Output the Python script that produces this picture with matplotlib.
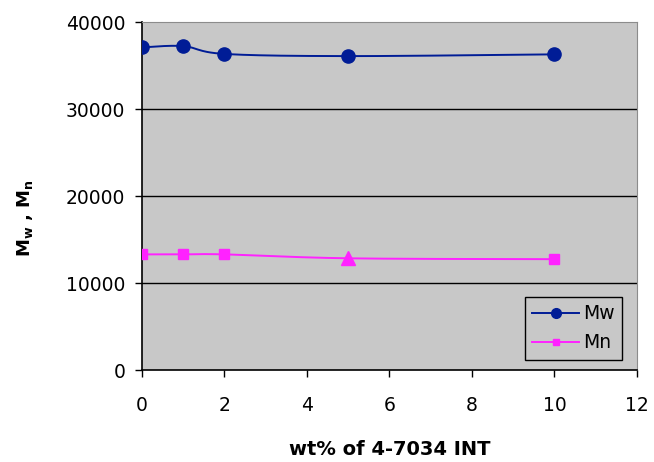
import numpy as np
import matplotlib.pyplot as plt

plt.rcParams['font.family'] = ['DejaVu Sans']

wt = [0, 1, 2, 5, 10]
mw = [37100, 37250, 36350, 36100, 36300]
mn = [13300, 13300, 13300, 12850, 12750]


def excel_smooth(x, y, n=40):
    # bezier smoothing like the spreadsheet "smoothed line" option
    x = np.asarray(x, float)
    y = np.asarray(y, float)
    px = np.concatenate([[x[0]], x, [x[-1]]])
    py = np.concatenate([[y[0]], y, [y[-1]]])
    xs, ys = [], []
    t = np.linspace(0, 1, n)
    for i in range(1, len(px) - 2):
        p0 = np.array([px[i], py[i]])
        p3 = np.array([px[i + 1], py[i + 1]])
        c1 = p0 + (np.array([px[i + 1], py[i + 1]]) - np.array([px[i - 1], py[i - 1]])) / 6
        c2 = p3 - (np.array([px[i + 2], py[i + 2]]) - np.array([px[i], py[i]])) / 6
        b = ((1 - t) ** 3)[:, None] * p0 + (3 * (1 - t) ** 2 * t)[:, None] * c1 \
            + (3 * (1 - t) * t ** 2)[:, None] * c2 + (t ** 3)[:, None] * p3
        xs.extend(b[:, 0])
        ys.extend(b[:, 1])
    return np.array(xs), np.array(ys)


fig = plt.figure(figsize=(6.54, 4.62), dpi=100)
ax = fig.add_axes([0.217, 0.199, 0.757, 0.753])
ax.set_facecolor('#c8c8c8')

for y in [10000, 20000, 30000]:
    ax.axhline(y, color='black', lw=1, zorder=1)

navy = '#001c96'
pink = '#ff22ff'

sx, sy = excel_smooth(wt, mw)
ax.plot(sx, sy, color=navy, lw=1.4, zorder=2)
ax.plot(wt, mw, 'o', color=navy, ms=9.5, zorder=3)

sx, sy = excel_smooth(wt, mn)
ax.plot(sx, sy, color=pink, lw=1.4, zorder=2)
ax.plot([wt[i] for i in (0, 1, 2, 4)], [mn[i] for i in (0, 1, 2, 4)], 's',
        color=pink, ms=6.5, zorder=3)
ax.plot([wt[3]], [mn[3]], '^', color=pink, ms=10, zorder=3)

h1, = ax.plot([], [], '-o', color=navy, lw=1.4, ms=7, label='Mw')
h2, = ax.plot([], [], '-s', color=pink, lw=1.4, ms=5, label='Mn')
leg = ax.legend(handles=[h1, h2], loc='lower right', bbox_to_anchor=(0.97, 0.029),
                borderaxespad=0, fontsize=13.5, fancybox=False, edgecolor='black',
                facecolor='#c8c8c8', framealpha=1, handlelength=2.5,
                handletextpad=0.2, borderpad=0.4, labelspacing=0.55)
leg.get_frame().set_linewidth(1)

ax.set_xlim(0, 12)
ax.set_ylim(0, 40000)
ax.set_xticks(range(0, 13, 2))
ax.set_yticks(range(0, 40001, 10000))
ax.tick_params(labelsize=13.5, direction='out', length=5, width=1)
ax.tick_params(axis='y', pad=7)
ax.tick_params(axis='x', pad=14)

for s in ['top', 'right']:
    ax.spines[s].set_color('#8c8c8c')
for s in ['left', 'bottom']:
    ax.spines[s].set_linewidth(1.2)

ax.set_xlabel('wt% of 4-7034 INT', fontsize=14, fontweight='bold', labelpad=18)
ax.set_ylabel(r'M$_\mathbf{w}$ , M$_\mathbf{n}$', fontsize=13, fontweight='bold')
ax.yaxis.set_label_coords(-0.216, 0.437)

plt.savefig('out.png', dpi=100)
